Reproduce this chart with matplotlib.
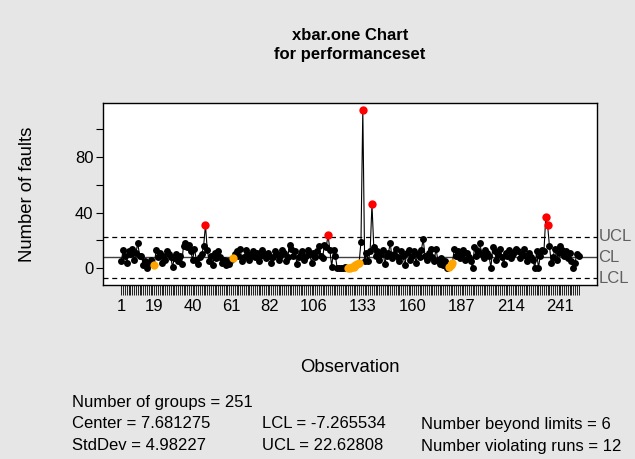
import matplotlib
matplotlib.use("Agg")
import matplotlib.pyplot as plt
import numpy as np

plt.rcParams['font.family'] = ['Liberation Sans', 'DejaVu Sans']

# ---- data ----
faults = [
    5, 13, 9, 4, 12, 10, 14, 6, 11, 18,
    9, 9, 2, 5, 0, 3, 6, 4, 2, 13,
    8, 11, 4, 9, 6, 12, 10, 8, 1, 7,
    10, 5, 9, 3, 16, 18, 15, 17, 12, 6,
    14, 6, 3, 8, 10, 16, 31, 13, 5, 9,
    2, 11, 7, 12, 8, 4, 6, 2, 5, 3,
    6, 7, 10, 12, 9, 14, 5, 8, 13, 10,
    6, 9, 12, 8, 11, 5, 9, 13, 10, 7,
    11, 9, 4, 8, 12, 10, 6, 9, 13, 11,
    5, 8, 17, 14, 9, 12, 3, 8, 10, 12,
    6, 9, 13, 10, 4, 11, 8, 12, 16, 9,
    7, 17, 15, 24, 13, 1, 13, 9, 0, 0,
    0, 0, 1, 0, 0, 0, 1, 1, 2, 3,
    4, 19, 114, 5, 11, 5, 12, 46, 15, 9,
    12, 6, 10, 13, 3, 9, 11, 18, 7, 10,
    14, 8, 5, 12, 9, 2, 11, 13, 6, 9,
    12, 4, 10, 8, 13, 21, 9, 6, 11, 14,
    8, 5, 14, 6, 3, 7, 2, 5, 0, 1,
    2, 4, 14, 9, 12, 7, 10, 13, 6, 11,
    8, 5, 0, 15, 9, 12, 18, 10, 7, 13,
    11, 9, 0, 15, 12, 6, 10, 14, 8, 3,
    11, 9, 13, 7, 10, 12, 14, 12, 7, 10,
    14, 9, 5, 11, 8, 6, 0, 12, 0, 9,
    13, 12, 37, 31, 16, 4, 8, 14, 6, 11,
    16, 13, 9, 12, 7, 11, 5, 0, 4, 10, 9,
]
center = 7.681275
lcl = -7.265534
ucl = 22.62808
stddev = 4.98227
n_groups = 251
n_beyond = 6
n_runs = 12
run_length = 7
x_tick_labels = [1, 19, 40, 61, 82, 106, 133, 160, 187, 214, 241]
y_ticks = [0, 20, 40, 60, 80, 100]
y_tick_labels = [0, 40, 80]

# ---- derived ----
y = np.array(faults, dtype=float)
n = len(y)
idx = np.arange(1, n + 1)

beyond = (y > ucl) | (y < lcl)
side = np.sign(y - center)
viol = np.zeros(n, dtype=bool)
count = 0
for i in range(n):
    if i > 0 and side[i] == side[i - 1] and side[i] != 0:
        count += 1
    else:
        count = 1
    if count >= run_length:
        viol[i] = True
viol &= ~beyond
normal = ~(beyond | viol)

W, H = 635, 459
fig = plt.figure(figsize=(W / 100, H / 100), dpi=100, facecolor='#e6e6e6')
L, R, T, B = 103, 597, 103, 285
ax = fig.add_axes([L / W, 1 - B / H, (R - L) / W, (B - T) / H])
ax.set_facecolor('white')

ax.plot(idx, y, color='black', lw=0.8, zorder=2)
ax.plot(idx[normal], y[normal], 'o', color='black', ms=5.0, mew=0, zorder=3)
ax.plot(idx[viol], y[viol], 'o', color='#FFA500', ms=6.0, mew=0, zorder=4)
ax.plot(idx[beyond], y[beyond], 'o', color='#FF0000', ms=6.0, mew=0, zorder=4)

ax.axhline(center, color='#404040', lw=1.0, zorder=1)
ax.axhline(ucl, color='black', lw=0.9, ls=(0, (4, 3)), zorder=1)
ax.axhline(lcl, color='black', lw=0.9, ls=(0, (4, 3)), zorder=1)

lo = min(y.min(), lcl)
hi = max(y.max(), ucl)
pad = 0.04 * (hi - lo)
ax.set_ylim(lo - pad, hi + pad)
xpad = 0.04 * (n - 1)
ax.set_xlim(1 - xpad, n + xpad)

ax.set_xticks(idx)
ax.set_xticklabels([str(i) if i in x_tick_labels else '' for i in idx], fontsize=12)
ax.set_yticks(y_ticks)
ax.set_yticklabels([str(v) if v in y_tick_labels else '' for v in y_ticks], fontsize=12)
ax.tick_params(axis='x', length=7, width=0.6, pad=3)
ax.tick_params(axis='y', length=5, width=0.8, pad=2)
for s in ax.spines.values():
    s.set_linewidth(1.0)
    s.set_color('black')

for val, lab in [(ucl, 'UCL'), (center, 'CL'), (lcl, 'LCL')]:
    ax.text(1.003, val, lab, transform=ax.get_yaxis_transform(), ha='left',
            va='center', fontsize=12, color='#606060', clip_on=False)

cx = (L + R) / 2 / W
fig.text(cx, 1 - 35 / H, 'xbar.one Chart', ha='center', va='center',
         fontsize=12, fontweight='bold')
fig.text(cx, 1 - 54 / H, 'for performanceset', ha='center', va='center',
         fontsize=12, fontweight='bold')
fig.text(28 / W, 1 - 194 / H, 'Number of faults', rotation=90, ha='center',
         va='center', fontsize=13.3)
fig.text(cx, 1 - 367 / H, 'Observation', ha='center', va='center', fontsize=13.3)

fs = 12
fig.text(72 / W, 1 - 402 / H, f'Number of groups = {n_groups}', va='center', fontsize=fs)
fig.text(72 / W, 1 - 424 / H, f'Center = {center}', va='center', fontsize=fs)
fig.text(72 / W, 1 - 446 / H, f'StdDev = {stddev}', va='center', fontsize=fs)
fig.text(262 / W, 1 - 424 / H, f'LCL = {lcl}', va='center', fontsize=fs)
fig.text(262 / W, 1 - 446 / H, f'UCL = {ucl}', va='center', fontsize=fs)
fig.text(421 / W, 1 - 424 / H, f'Number beyond limits = {n_beyond}', va='center', fontsize=fs)
fig.text(421 / W, 1 - 446 / H, f'Number violating runs = {n_runs}', va='center', fontsize=fs)

fig.savefig('out.png', dpi=100, facecolor=fig.get_facecolor())
